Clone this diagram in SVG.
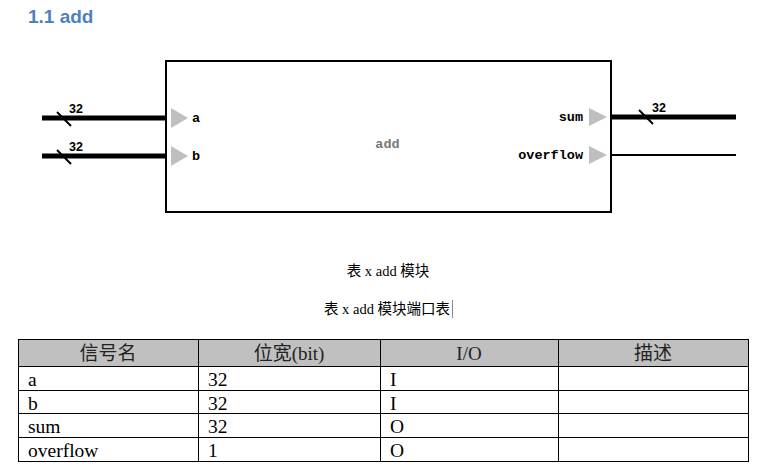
<svg xmlns="http://www.w3.org/2000/svg" width="768" height="469" viewBox="0 0 768 469">
<style>
.title{font-family:"Liberation Sans",Arial,sans-serif;font-weight:bold;font-size:19px;fill:#4F81BD}
.port{font-family:"Liberation Mono","Courier New",monospace;font-weight:bold;font-size:13.5px;fill:#000}
.bw{font-family:"Liberation Sans",Arial,sans-serif;font-weight:bold;font-size:12.5px;fill:#000}
.cap{font-family:"Liberation Serif","Noto Sans CJK SC",serif;font-size:14.5px;fill:#000}
.cell{font-family:"Liberation Serif","Noto Sans CJK SC",serif;font-size:19.5px;fill:#000}
.hdr{font-family:"Liberation Serif","Noto Sans CJK SC",serif;font-size:19px;fill:#222}
.tri{fill:#BFBFBF}
.bus{stroke:#000;stroke-width:5;fill:none}
.wire{stroke:#000;stroke-width:2;fill:none}
.slash{stroke:#000;stroke-width:2}
.grid{stroke:#000;stroke-width:1;fill:none}
</style>
<text class="title" x="28" y="23">1.1 add</text>
<g id="add">
<rect x="166" y="61" width="445" height="151" fill="#fff" stroke="#000" stroke-width="2"/>
<text x="387.5" y="148" text-anchor="middle" style="font-family:'Liberation Mono','Courier New',monospace;font-weight:bold;font-size:13.5px;fill:#777">add</text>
<polygon class="tri" points="171,108 188,118 171,128"/>
<text class="port" x="192" y="122">a</text>
<polygon class="tri" points="171,146 188,156 171,166"/>
<text class="port" x="192" y="160">b</text>
<polygon class="tri" points="589,108 607,117 589,126"/>
<text class="port" x="583" y="121" text-anchor="end">sum</text>
<polygon class="tri" points="589,146 607,155 589,164"/>
<text class="port" x="583" y="159" text-anchor="end">overflow</text>
</g>
<g id="connectors">
<line class="bus" x1="42" y1="118" x2="166" y2="118"/>
<line class="slash" x1="57" y1="112" x2="71" y2="126"/>
<text class="bw" x="69" y="113">32</text>
<line class="bus" x1="42" y1="156" x2="166" y2="156"/>
<line class="slash" x1="57" y1="150" x2="71" y2="164"/>
<text class="bw" x="69" y="151">32</text>
<line class="bus" x1="611" y1="117" x2="736" y2="117"/>
<line class="slash" x1="639" y1="110" x2="653" y2="124"/>
<text class="bw" x="652" y="112">32</text>
<line class="wire" x1="611" y1="155" x2="736" y2="155"/>
</g>
<text class="cap" x="388" y="276" text-anchor="middle">表 x add 模块</text>
<text class="cap" x="387" y="314" text-anchor="middle">表 x add 模块端口表</text>
<line x1="452.5" y1="300" x2="452.5" y2="318" stroke="#888" stroke-width="1"/>
<g id="table">
<rect x="18" y="339" width="730" height="27" fill="#C0C0C0"/>
<rect class="grid" x="18.5" y="339.5" width="730" height="122"/>
<line class="grid" x1="18" y1="366.5" x2="748" y2="366.5"/>
<line class="grid" x1="18" y1="390.5" x2="748" y2="390.5"/>
<line class="grid" x1="18" y1="413.5" x2="748" y2="413.5"/>
<line class="grid" x1="18" y1="437.5" x2="748" y2="437.5"/>
<line class="grid" x1="198.5" y1="339" x2="198.5" y2="461"/>
<line class="grid" x1="380.5" y1="339" x2="380.5" y2="461"/>
<line class="grid" x1="558.5" y1="339" x2="558.5" y2="461"/>
<text class="hdr" x="108" y="360" text-anchor="middle">信号名</text>
<text class="hdr" x="289" y="360" text-anchor="middle">位宽(bit)</text>
<text class="hdr" x="469" y="360" text-anchor="middle">I/O</text>
<text class="hdr" x="653" y="360" text-anchor="middle">描述</text>
<text class="cell" x="28" y="385.5">a</text>
<text class="cell" x="208" y="385.5">32</text>
<text class="cell" x="390" y="385.5">I</text>
<text class="cell" x="28" y="409.5">b</text>
<text class="cell" x="208" y="409.5">32</text>
<text class="cell" x="390" y="409.5">I</text>
<text class="cell" x="28" y="432.5">sum</text>
<text class="cell" x="208" y="432.5">32</text>
<text class="cell" x="390" y="432.5">O</text>
<text class="cell" x="28" y="456.5">overflow</text>
<text class="cell" x="208" y="456.5">1</text>
<text class="cell" x="390" y="456.5">O</text>
</g>
</svg>
